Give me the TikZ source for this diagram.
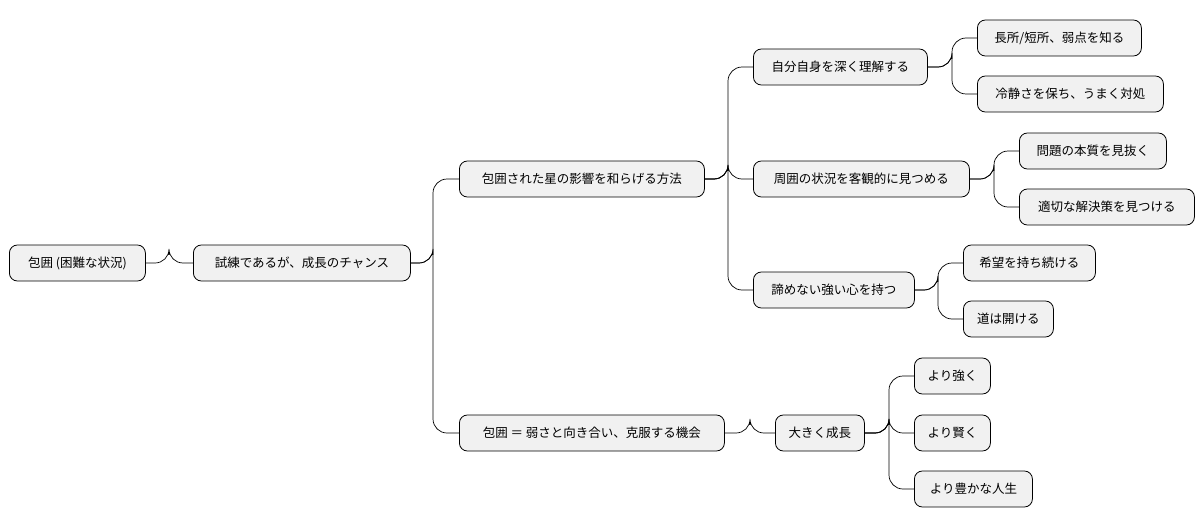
\documentclass[tikz,border=0pt]{standalone}
\usepackage{fontspec}
\setmainfont{Noto Sans CJK JP}
\begin{document}
\begin{tikzpicture}[x=1pt,y=-1pt,
  mm/.style={draw=black,fill={rgb,255:red,241;green,241;blue,241},rounded corners=8pt,line width=0.8pt,
    minimum height=36pt,inner sep=0pt,anchor=west,font=\fontsize{12.5}{14}\selectfont,align=center},
  con/.style={draw=black,line width=0.7pt,rounded corners=14pt}]
\useasboundingbox (0,0) rectangle (1204,527);
\node[mm,minimum width=136pt] (n0) at (9,263) {包囲 (困難な状況)};
\node[mm,minimum width=217pt] (n1) at (193,263) {試練であるが、成長のチャンス};
\node[mm,minimum width=245pt] (n2) at (459,179) {包囲された星の影響を和らげる方法};
\node[mm,minimum width=265pt] (n3) at (459,433) {包囲 ＝ 弱さと向き合い、克服する機会};
\node[mm,minimum width=174pt] (n4) at (753,67) {自分自身を深く理解する};
\node[mm,minimum width=216pt] (n5) at (753,179) {周囲の状況を客観的に見つめる};
\node[mm,minimum width=161pt] (n6) at (753,290) {諦めない強い心を持つ};
\node[mm,minimum width=164pt] (n7) at (977,38) {長所/短所、弱点を知る};
\node[mm,minimum width=186pt] (n8) at (977,94) {冷静さを保ち、うまく対処};
\node[mm,minimum width=147pt] (n9) at (1019,151) {問題の本質を見抜く};
\node[mm,minimum width=175pt] (n10) at (1019,207) {適切な解決策を見つける};
\node[mm,minimum width=132pt] (n11) at (963,263) {希望を持ち続ける};
\node[mm,minimum width=90pt] (n12) at (963,319) {道は開ける};
\node[mm,minimum width=89pt] (n13) at (775,433) {大きく成長};
\node[mm,minimum width=76pt] (n14) at (914,376) {より強く};
\node[mm,minimum width=76pt] (n15) at (914,433) {より賢く};
\node[mm,minimum width=118pt] (n16) at (914,489) {より豊かな人生};
\foreach \a/\b/\m in {n0/n1/169,n1/n2/433,n1/n3/433,n2/n4/728,n2/n5/728,n2/n6/728,
  n4/n7/952,n4/n8/952,n5/n9/994,n5/n10/994,n6/n11/938,n6/n12/938,n3/n13/750,
  n13/n14/889,n13/n15/889,n13/n16/889}
  \draw[con] (\a.east) -| (\m,0 |- \a.east) -- (\m,0 |- \a.east) |- (\b.west);
\end{tikzpicture}
\end{document}
